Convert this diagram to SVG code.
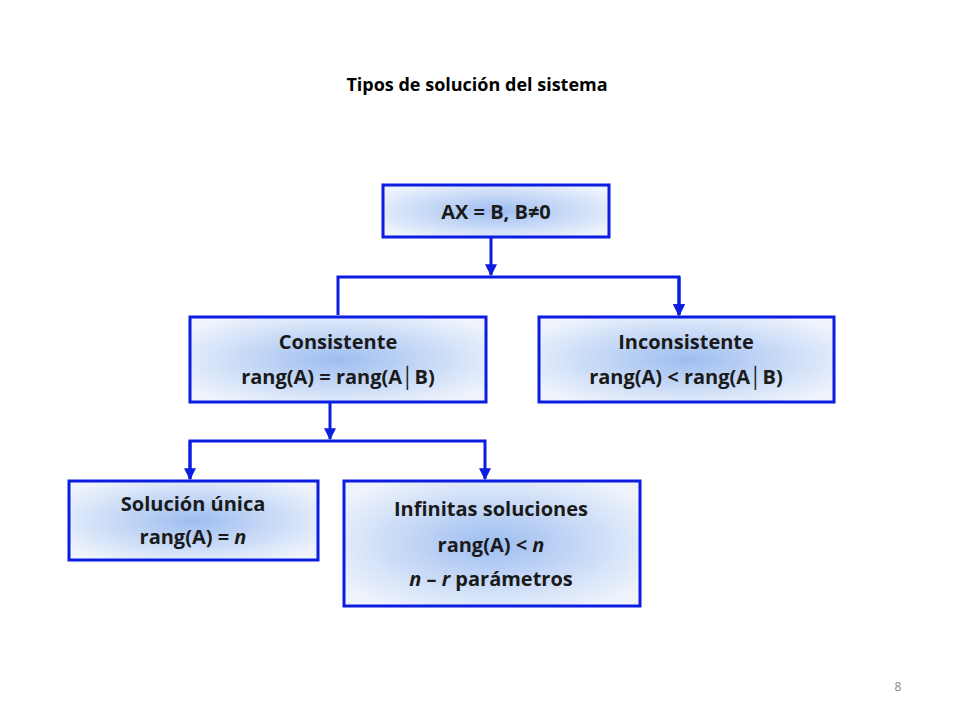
<svg xmlns="http://www.w3.org/2000/svg" width="960" height="720" viewBox="0 0 960 720">
<defs>
<radialGradient id="g" cx="50%" cy="50%" r="60%">
<stop offset="0" stop-color="#9dbdf0"/>
<stop offset="1" stop-color="#eef3fc"/>
</radialGradient>
<marker id="a" viewBox="0 0 10 10" refX="9" refY="5" markerWidth="4" markerHeight="4" orient="auto"><path d="M0,0L10,5L0,10z" fill="#0b1de0"/></marker>
<style>
.b{fill:url(#g);stroke:#0b1de0;stroke-width:3}
.t{font-family:"Open Sans","Liberation Sans",sans-serif;font-weight:bold;font-size:20px;fill:#1a1a1a;text-anchor:middle}
.c{fill:none;stroke:#0b1de0;stroke-width:3}
</style>
</defs>
<rect width="960" height="720" fill="#fff"/>
<text x="477" y="91" style="font-family:'Open Sans','Liberation Sans',sans-serif;font-weight:bold;font-size:18px;text-anchor:middle">Tipos de solución del sistema</text>
<text x="898" y="691" style="font-family:'Open Sans','Liberation Sans',sans-serif;font-size:12px;fill:#888;text-anchor:middle">8</text>
<g id="connectors">
<path class="c" d="M491,237V275" marker-end="url(#a)"/>
<path class="c" d="M338,315V277H679V315" marker-end="url(#a)"/>
<path class="c" d="M679,277V315" marker-end="url(#a)"/>
<path class="c" d="M330,402V439" marker-end="url(#a)"/>
<path class="c" d="M190,479V441H485V479" marker-end="url(#a)"/>
<path class="c" d="M190,441V479" marker-end="url(#a)"/>
</g>
<g id="n1"><rect class="b" x="383" y="185" width="226" height="52"/><text class="t" x="496" y="219">AX = B, B≠0</text></g>
<g id="n2"><rect class="b" x="190" y="317" width="296" height="85"/><text class="t" x="338" y="349">Consistente</text><text class="t" x="338" y="384">rang(A) = rang(A│B)</text></g>
<g id="n3"><rect class="b" x="539" y="317" width="295" height="85"/><text class="t" x="686" y="349">Inconsistente</text><text class="t" x="686" y="384">rang(A) &lt; rang(A│B)</text></g>
<g id="n4"><rect class="b" x="69" y="481" width="249" height="79"/><text class="t" x="193" y="511">Solución única</text><text class="t" x="193" y="544">rang(A) = <tspan font-style="italic">n</tspan></text></g>
<g id="n5"><rect class="b" x="344" y="481" width="296" height="125"/><text class="t" x="491" y="516">Infinitas soluciones</text><text class="t" x="491" y="552">rang(A) &lt; <tspan font-style="italic">n</tspan></text><text class="t" x="491" y="586"><tspan font-style="italic">n</tspan> – <tspan font-style="italic">r</tspan> parámetros</text></g>
</svg>
